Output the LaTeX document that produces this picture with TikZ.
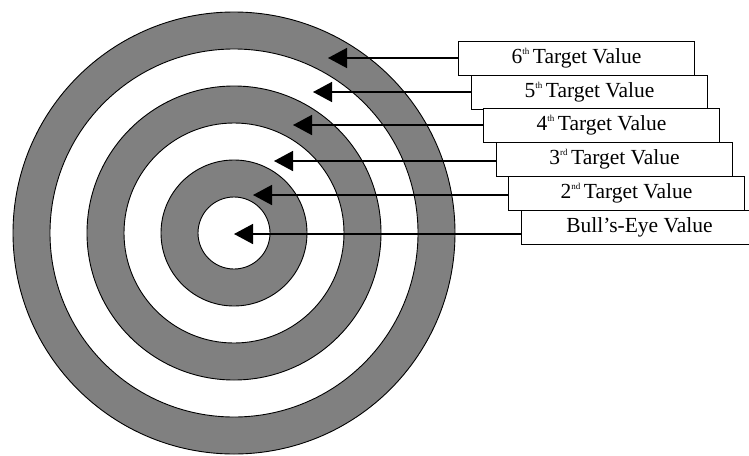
\documentclass[tikz,border=0pt]{standalone}
\usepackage{fontspec}
\setmainfont{Liberation Serif}
\usetikzlibrary{arrows.meta}
\definecolor{ringgray}{RGB}{128,128,128}
\newcommand{\ordsup}[1]{\raisebox{0.42em}{\fontsize{9}{9}\selectfont #1}}
\tikzset{
  ringdark/.style={fill=ringgray, draw=black, line width=0.9pt},
  ringlight/.style={fill=white, draw=black, line width=0.9pt},
  valbox/.style={draw=black, fill=white, line width=0.9pt, minimum width=236pt, minimum height=34pt,
    inner sep=0pt, anchor=north west, font=\fontsize{21.5}{23}\selectfont},
  arr/.style={draw=black, line width=1.5pt, -{Triangle[length=19pt,width=20pt]}}
}
\begin{document}
\begin{tikzpicture}[x=1pt,y=-1pt]
\useasboundingbox (0,0) rectangle (749,455);
\fill[white] (0,0) rectangle (749,455);
\clip (0,0) rectangle (749,455);
% target rings
\coordinate (c) at (234,233);
\path[ringdark]  (c) circle[radius=221];
\path[ringlight] (c) circle[radius=184];
\path[ringdark]  (c) circle[radius=147];
\path[ringlight] (c) circle[radius=110];
\path[ringdark]  (c) circle[radius=73];
\path[ringlight] (c) circle[radius=36];
% label boxes
\node[valbox] (b6) at (458,41)  {6\ordsup{th}\,Target Value};
\node[valbox] (b5) at (471,75)  {5\ordsup{th}\,Target Value};
\node[valbox] (b4) at (483,108) {4\ordsup{th}\,Target Value};
\node[valbox] (b3) at (496,142) {3\ordsup{rd}\,Target Value};
\node[valbox] (b2) at (508,176) {2\ordsup{nd}\,Target Value};
\node[valbox] (b1) at (521,210) {Bull’s-Eye Value};
% arrow tips
\coordinate (t6) at (328,58);
\coordinate (t5) at (313,92);
\coordinate (t4) at (293,125);
\coordinate (t3) at (274,161);
\coordinate (t2) at (253,195);
\coordinate (t1) at (234,234);
\draw[arr] (b6.west |- t6) -- (t6);
\draw[arr] (b5.west |- t5) -- (t5);
\draw[arr] (b4.west |- t4) -- (t4);
\draw[arr] (b3.west |- t3) -- (t3);
\draw[arr] (b2.west |- t2) -- (t2);
\draw[arr] (b1.west |- t1) -- (t1);
\end{tikzpicture}
\end{document}
